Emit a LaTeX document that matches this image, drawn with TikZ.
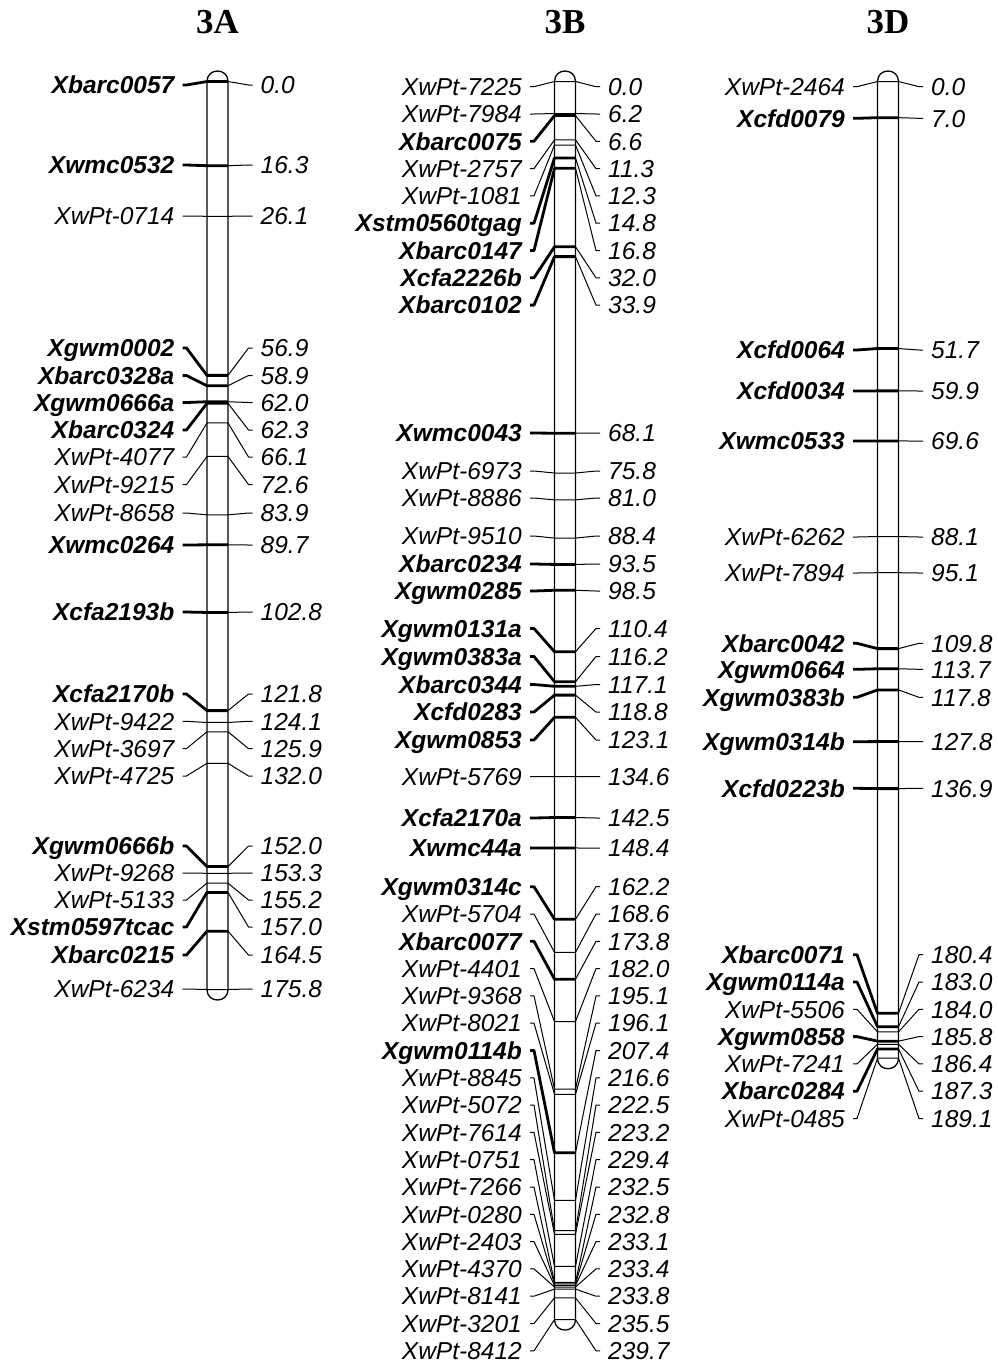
\documentclass[tikz,border=0pt]{standalone}
\usepackage{fontspec}
\setmainfont{Liberation Sans}
\newfontfamily\titlefont{Liberation Serif}
\tikzset{
  x=1pt, y=-1pt,
  lab/.style={font=\fontsize{24.5}{24.5}\selectfont\itshape, inner xsep=8pt, inner ysep=0pt, text height=17.4pt, text depth=0pt},
  labB/.style={font=\fontsize{24.5}{24.5}\selectfont\bfseries\itshape, inner xsep=8pt, inner ysep=0pt, text height=17.4pt, text depth=0pt},
  num/.style={font=\fontsize{24.5}{24.5}\selectfont\itshape, inner xsep=8pt, inner ysep=0pt, text height=17.4pt, text depth=0pt},
  thinln/.style={line width=1pt, line join=round},
  thickln/.style={line width=2.8pt, line join=round},
  barline/.style={line width=1.3pt},
  ttl/.style={font=\titlefont\fontsize{35}{35}\selectfont\bfseries, inner sep=0pt, text height=23.2pt, text depth=0pt}
}
\newcommand\chromo[4]{%
  \pgfmathsetmacro\cxx{#2}%
  \pgfmathsetmacro\yend{81.5+5.165*#3}%
  \draw[barline] (\cxx-10.5,\yend) -- (\cxx-10.5,81.5) .. controls (\cxx-10.5,67.5) and (\cxx+10.5,67.5) .. (\cxx+10.5,81.5) -- (\cxx+10.5,\yend) .. controls (\cxx+10.5,\yend+14) and (\cxx-10.5,\yend+14) .. cycle;
  \foreach \mkname/\mkcm/\mkly/\mkbb [count=\mki] in {#4} {
    \pgfmathsetmacro\mkmy{81.5+5.165*\mkcm}
    \ifnum\mkbb=1 \def\mkls{labB}\def\mkws{thickln}\else \def\mkls{lab}\def\mkws{thinln}\fi
    \node[\mkls, anchor=east] (#1L\mki) at (\cxx-35,\mkly) {\mkname};
    \node[num, anchor=west] (#1R\mki) at (\cxx+35,\mkly) {\mkcm};
    \coordinate (#1P\mki) at (\cxx-10.5,\mkmy);
    \coordinate (#1Q\mki) at (\cxx+10.5,\mkmy);
    \draw[\mkws] (#1L\mki.east) -- ([xshift=4pt]#1L\mki.east) -- (#1P\mki) -- (#1Q\mki);
    \draw[thinln] (#1Q\mki) -- ([xshift=-4pt]#1R\mki.west) -- (#1R\mki.west);
  }
}
\begin{document}
\begin{tikzpicture}
\useasboundingbox (0,0) rectangle (997,1369);
\node[ttl] (tA) at (217.5,22) {3A};
\node[ttl] (tB) at (565,22) {3B};
\node[ttl] (tD) at (888,22) {3D};
\chromo{A}{217.5}{175.8}{
Xbarc0057/0.0/85/1,
Xwmc0532/16.3/165/1,
XwPt-0714/26.1/216/0,
Xgwm0002/56.9/348/1,
Xbarc0328a/58.9/375.5/1,
Xgwm0666a/62.0/402.5/1,
Xbarc0324/62.3/430/1,
XwPt-4077/66.1/457/0,
XwPt-9215/72.6/484.5/0,
XwPt-8658/83.9/513/0,
Xwmc0264/89.7/545/1,
Xcfa2193b/102.8/612/1,
Xcfa2170b/121.8/694/1,
XwPt-9422/124.1/721.3/0,
XwPt-3697/125.9/748.6/0,
XwPt-4725/132.0/776/0,
Xgwm0666b/152.0/846/1,
XwPt-9268/153.3/873/0,
XwPt-5133/155.2/900/0,
Xstm0597tcac/157.0/927/1,
Xbarc0215/164.5/955/1,
XwPt-6234/175.8/989/0}
\chromo{B}{565}{239.7}{
XwPt-7225/0.0/86.7/0,
XwPt-7984/6.2/114/0,
Xbarc0075/6.6/141.3/1,
XwPt-2757/11.3/168.6/0,
XwPt-1081/12.3/195.9/0,
Xstm0560tgag/14.8/223.2/1,
Xbarc0147/16.8/250.5/1,
Xcfa2226b/32.0/277.8/1,
Xbarc0102/33.9/305.1/1,
Xwmc0043/68.1/433/1,
XwPt-6973/75.8/471/0,
XwPt-8886/81.0/498/0,
XwPt-9510/88.4/536/0,
Xbarc0234/93.5/564/1,
Xgwm0285/98.5/591/1,
Xgwm0131a/110.4/628.5/1,
Xgwm0383a/116.2/656.5/1,
Xbarc0344/117.1/684.5/1,
Xcfd0283/118.8/712/1,
Xgwm0853/123.1/740/1,
XwPt-5769/134.6/776.7/0,
Xcfa2170a/142.5/818/1,
Xwmc44a/148.4/848/1,
Xgwm0314c/162.2/886.7/1,
XwPt-5704/168.6/914/0,
Xbarc0077/173.8/941.3/1,
XwPt-4401/182.0/968.6/0,
XwPt-9368/195.1/995.9/0,
XwPt-8021/196.1/1023.2/0,
Xgwm0114b/207.4/1050.5/1,
XwPt-8845/216.6/1077.8/0,
XwPt-5072/222.5/1105.1/0,
XwPt-7614/223.2/1132.4/0,
XwPt-0751/229.4/1159.7/0,
XwPt-7266/232.5/1187/0,
XwPt-0280/232.8/1214.3/0,
XwPt-2403/233.1/1241.6/0,
XwPt-4370/233.4/1268.9/0,
XwPt-8141/233.8/1296.2/0,
XwPt-3201/235.5/1323.5/0,
XwPt-8412/239.7/1350.8/0}
\chromo{D}{888}{189.1}{
XwPt-2464/0.0/86.7/0,
Xcfd0079/7.0/118.3/1,
Xcfd0064/51.7/350/1,
Xcfd0034/59.9/391/1,
Xwmc0533/69.6/441/1,
XwPt-6262/88.1/537/0,
XwPt-7894/95.1/573/0,
Xbarc0042/109.8/643.3/1,
Xgwm0664/113.7/669.3/1,
Xgwm0383b/117.8/697.3/1,
Xgwm0314b/127.8/741.7/1,
Xcfd0223b/136.9/788.3/1,
Xbarc0071/180.4/954.7/1,
Xgwm0114a/183.0/982/1,
XwPt-5506/184.0/1009.3/0,
Xgwm0858/185.8/1036.6/1,
XwPt-7241/186.4/1063.9/0,
Xbarc0284/187.3/1091.2/1,
XwPt-0485/189.1/1118.5/0}
\end{tikzpicture}
\end{document}
